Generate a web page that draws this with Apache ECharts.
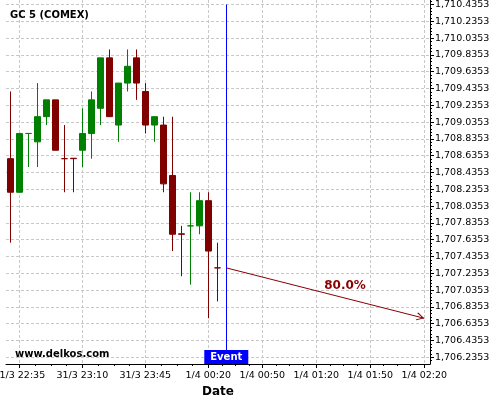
<!DOCTYPE html>
<html><head><meta charset="utf-8">
<script src="https://cdn.jsdelivr.net/npm/echarts@6/dist/echarts.min.js"></script>
<style>html,body{margin:0;padding:0;background:#fff}#c{width:500px;height:400px}</style>
</head><body><div id="c"></div>
<script>
// ---- data ----
const times = ["31/3 22:30","31/3 22:35","31/3 22:40","31/3 22:45","31/3 22:50","31/3 22:55",
  "31/3 23:00","31/3 23:05","31/3 23:10","31/3 23:15","31/3 23:20","31/3 23:25",
  "31/3 23:30","31/3 23:35","31/3 23:40","31/3 23:45","31/3 23:50","31/3 23:55",
  "1/4 00:00","1/4 00:05","1/4 00:10","1/4 00:15","1/4 00:20","1/4 00:25"];
const opens  = [1708.6,1708.2,1708.9,1708.8,1709.1,1709.3,1708.6,1708.605,1708.7,1708.9,1709.2,1709.8,
                1709.0,1709.5,1709.8,1709.4,1709.0,1709.0,1708.4,1707.705,1707.8,1707.8,1708.1,1707.3];
const closes = [1708.2,1708.9,1708.9,1709.1,1709.3,1708.7,1708.6,1708.6,1708.9,1709.3,1709.8,1709.1,
                1709.5,1709.7,1709.5,1709.0,1709.1,1708.3,1707.7,1707.7,1707.8,1708.1,1707.5,1707.3];
const lows   = [1707.6,1708.2,1708.5,1708.5,1709.0,1708.7,1708.2,1708.2,1708.5,1708.6,1709.0,1709.1,
                1708.8,1709.4,1709.3,1708.9,1708.8,1708.2,1707.5,1707.2,1707.1,1707.7,1706.7,1706.9];
const highs  = [1709.4,1708.9,1708.9,1709.5,1709.3,1709.3,1709.0,1708.605,1709.2,1709.4,1709.8,1709.9,
                1709.5,1709.9,1709.9,1709.5,1709.1,1709.1,1709.1,1707.8,1708.2,1708.2,1708.2,1707.6];
const xTickLabels = ["31/3 22:35","31/3 23:10","31/3 23:45","1/4 00:20","1/4 00:50","1/4 01:20","1/4 01:50","1/4 02:20"];
const yTickLabels = ["1,710.4353","1,710.2353","1,710.0353","1,709.8353","1,709.6353","1,709.4353","1,709.2353",
  "1,709.0353","1,708.8353","1,708.6353","1,708.4353","1,708.2353","1,708.0353","1,707.8353","1,707.6353",
  "1,707.4353","1,707.2353","1,707.0353","1,706.8353","1,706.6353","1,706.4353","1,706.2353"];
const eventTime = "1/4 00:30";
const forecastTimes = ["1/4 00:30","1/4 02:20"];
const forecastValues = [1707.3, 1706.7];
const forecastLabel = "80.0%";
const chartTitle = "GC 5 (COMEX)";
const watermark = "www.delkos.com";
const eventLabel = "Event";
const xAxisName = "Date";

// ---- helpers ----
function toMin(s){const [d,t]=s.split(' ');const [dd,mm]=d.split('/').map(Number);const [h,m]=t.split(':').map(Number);return Date.UTC(2021,mm-1,dd,h,m)/60000;}
const xTicks = xTickLabels.map(toMin);
const yTicks = yTickLabels.map(s=>Number(s.replace(/,/g,'')));
function subdivide(arr, n, lo, hi){
  const out=[];
  for(let i=0;i<arr.length-1;i++){const a=arr[i],b=arr[i+1];for(let k=1;k<n;k++)out.push(a+(b-a)*k/n);}
  const s0=arr[1]-arr[0], s1=arr[arr.length-1]-arr[arr.length-2];
  for(let k=1;k<n;k++){out.push(arr[0]-s0*k/n);out.push(arr[arr.length-1]+s1*k/n);}
  return out.filter(v=>v>=Math.min(lo,hi)&&v<=Math.max(lo,hi));
}
const xMin = toMin(times[0]) - 2.4, xMax = toMin(xTickLabels[xTickLabels.length-1]) + 3.2;
const yMin = yTicks[yTicks.length-1] - 0.0798, yMax = yTicks[0] + 0.0536;
const xMinor = subdivide(xTicks, 4, xMin, xMax);
const yMinor = subdivide(yTicks, 5, yMin, yMax);
const FONT = 'DejaVu Sans';
const ev = toMin(eventTime);
const fx0 = toMin(forecastTimes[0]), fx1 = toMin(forecastTimes[1]);
const lblX = fx0 + (fx1-fx0)*0.6, lblY = forecastValues[0] + (forecastValues[1]-forecastValues[0])*0.6;

const chart = echarts.init(document.getElementById('c'), null, {renderer:'canvas'});
const grid = {left:6, right:70, top:0, bottom:36, containLabel:false, outerBoundsMode:'none'};
const dashed = {show:true, lineStyle:{color:'#c8c8c8', type:[3,2], width:1}};
chart.setOption({
  animation:false,
  backgroundColor:'#fff',
  title:[
    {text:chartTitle, left:10, top:10, padding:0, textStyle:{fontFamily:FONT, fontSize:10, fontWeight:'bold', color:'#000'}},
    {text:watermark, left:15, top:349, padding:0, textStyle:{fontFamily:FONT, fontSize:10, fontWeight:'bold', color:'#000'}}
  ],
  grid:grid,
  xAxis:[
    {type:'value', min:xMin, max:xMax, position:'bottom',
     axisLine:{show:true, lineStyle:{color:'#000', width:1}},
     axisTick:{show:true, customValues:xTicks, length:4, lineStyle:{color:'#000'}},
     axisLabel:{show:true, customValues:xTicks, margin:7, fontFamily:FONT, fontSize:9.5, color:'#000',
       formatter:v=>{const i=xTicks.findIndex(t=>Math.abs(t-v)<0.01);return i>=0?xTickLabels[i]:'';}},
     splitLine:dashed,
     name:xAxisName, nameLocation:'middle', nameGap:17,
     nameTextStyle:{fontFamily:FONT, fontSize:12, fontWeight:'bold', color:'#000', verticalAlign:'top'}},
    {type:'value', min:xMin, max:xMax, position:'bottom',
     axisLine:{show:false}, axisLabel:{show:false}, splitLine:{show:false},
     axisTick:{show:true, customValues:xMinor, length:2, lineStyle:{color:'#000'}}}
  ],
  yAxis:[
    {type:'value', min:yMin, max:yMax, position:'right',
     axisLine:{show:true, lineStyle:{color:'#000', width:1}},
     axisTick:{show:true, customValues:yTicks, length:4, lineStyle:{color:'#000'}},
     axisLabel:{show:true, customValues:yTicks, margin:5, fontFamily:FONT, fontSize:9.5, color:'#000',
       formatter:v=>{const i=yTicks.findIndex(t=>Math.abs(t-v)<1e-6);return i>=0?yTickLabels[i]:'';}},
     splitLine:dashed},
    {type:'value', min:yMin, max:yMax, position:'right',
     axisLine:{show:false}, axisLabel:{show:false}, splitLine:{show:false},
     axisTick:{show:true, customValues:yMinor, length:2, lineStyle:{color:'#000'}}}
  ],
  series:[{
    type:'candlestick', xAxisIndex:0, yAxisIndex:0, barWidth:6,
    encode:{x:0, y:[1,2,3,4]},
    data: times.map((t,i)=>[toMin(t), opens[i], closes[i], lows[i], highs[i]]),
    itemStyle:{color:'#008000', color0:'#800000', borderColor:'#008000', borderColor0:'#800000', borderWidth:1}
  },{
    type:'line', name:'event', data:[], xAxisIndex:0, yAxisIndex:0,
    markLine:{silent:true, animation:false, symbol:'none', label:{show:false},
      lineStyle:{color:'#0000ff', width:1, type:'solid'},
      data:[[{coord:[ev, yTicks[0]]}, {coord:[ev, yMin]}]]},
    markPoint:{silent:true, animation:false,
      data:[{coord:[ev, yMin], symbol:'rect', symbolSize:[44,14], symbolOffset:[0,-7], itemStyle:{color:'#0000ff'},
         label:{show:true, position:'inside', formatter:eventLabel, color:'#fff', fontFamily:FONT, fontSize:10, fontWeight:'bold'}}]}
  },{
    type:'line', name:'forecast', data:[], xAxisIndex:0, yAxisIndex:0,
    markLine:{silent:true, animation:false, label:{show:false},
      symbol:['none','path://M5,0 L10,9 L9,10 L5,2.4 L1,10 L0,9 Z'], symbolSize:[8,8], symbolOffset:[0,[0,4]],
      lineStyle:{color:'#8b0000', width:1, type:'solid'},
      data:[[{coord:[fx0, forecastValues[0]]}, {coord:[fx1, forecastValues[1]]}]]},
    markPoint:{silent:true, animation:false,
      data:[{coord:[lblX, lblY], symbol:'circle', symbolSize:0, itemStyle:{color:'rgba(0,0,0,0)'},
         label:{show:true, position:'inside', offset:[0,-12], formatter:forecastLabel, color:'#8b0000', fontFamily:FONT, fontSize:12, fontWeight:'bold'}}]}
  }]
});
</script></body></html>
